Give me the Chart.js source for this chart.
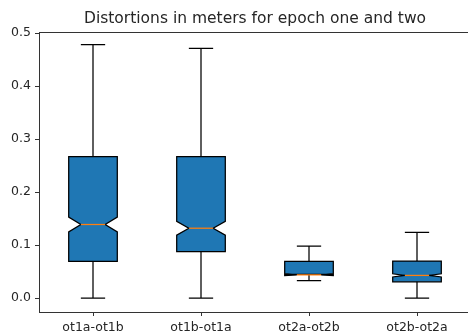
<!DOCTYPE html>
<html>
<head>
<meta charset="utf-8">
<script src="https://cdn.jsdelivr.net/npm/chart.js@4/dist/chart.umd.min.js"></script>
<style>
  html, body { margin: 0; padding: 0; background: #fff; overflow: hidden; }
  #wrap { width: 480px; height: 336px; }
</style>
</head>
<body>
<div id="wrap"><canvas id="c" width="480" height="336"></canvas></div>
<script>
// Distortion statistics (metres) per epoch pair
const categories = ['ot1a-ot1b', 'ot1b-ot1a', 'ot2a-ot2b', 'ot2b-ot2a'];
const whiskerLow  = [0.000, 0.000, 0.033, 0.000];
const quartile1   = [0.0695, 0.088, 0.045, 0.031];
const notchLow    = [0.125, 0.119, 0.0425, 0.040];
const medians     = [0.139, 0.132, 0.044, 0.043];
const notchHigh   = [0.153, 0.145, 0.0465, 0.046];
const quartile3   = [0.267, 0.267, 0.0695, 0.070];
const whiskerHigh = [0.478, 0.471, 0.098, 0.124];
const yTicks = [0.0, 0.1, 0.2, 0.3, 0.4, 0.5];
const chartTitle = 'Distortions in meters for epoch one and two';

const FONT = 'DejaVu Sans';
const TEXT = '#262626';
const SPINE = '#333333';

// Notched box plot painter working in data space via the chart scales
const notchedBoxes = {
  id: 'notchedBoxes',
  afterDatasetsDraw(chart) {
    const { ctx, scales: { x, y } } = chart;
    const step = x.getPixelForValue(1) - x.getPixelForValue(0);
    const w = step * 0.45;
    ctx.save();
    ctx.lineWidth = 1.25;
    ctx.lineJoin = 'miter';
    categories.forEach((_, i) => {
      const cx = x.getPixelForValue(i);
      const left = cx - w / 2, right = cx + w / 2;
      const capL = cx - w / 4, capR = cx + w / 4;
      const py = v => y.getPixelForValue(v);
      // box body with notch around the median
      ctx.beginPath();
      ctx.moveTo(left, py(quartile1[i]));
      ctx.lineTo(left, py(notchLow[i]));
      ctx.lineTo(capL, py(medians[i]));
      ctx.lineTo(left, py(notchHigh[i]));
      ctx.lineTo(left, py(quartile3[i]));
      ctx.lineTo(right, py(quartile3[i]));
      ctx.lineTo(right, py(notchHigh[i]));
      ctx.lineTo(capR, py(medians[i]));
      ctx.lineTo(right, py(notchLow[i]));
      ctx.lineTo(right, py(quartile1[i]));
      ctx.closePath();
      ctx.fillStyle = '#1f77b4';
      ctx.fill();
      ctx.strokeStyle = '#000';
      ctx.stroke();
      // whiskers and caps
      ctx.beginPath();
      ctx.moveTo(cx, py(quartile1[i]));
      ctx.lineTo(cx, py(whiskerLow[i]));
      ctx.moveTo(cx, py(quartile3[i]));
      ctx.lineTo(cx, py(whiskerHigh[i]));
      ctx.moveTo(capL, py(whiskerLow[i]));
      ctx.lineTo(capR, py(whiskerLow[i]));
      ctx.moveTo(capL, py(whiskerHigh[i]));
      ctx.lineTo(capR, py(whiskerHigh[i]));
      ctx.stroke();
      // median
      ctx.beginPath();
      ctx.moveTo(capL, py(medians[i]));
      ctx.lineTo(capR, py(medians[i]));
      ctx.strokeStyle = '#ff7f0e';
      ctx.stroke();
    });
    ctx.restore();
  },
  afterDraw(chart) {
    const { ctx, chartArea: a } = chart;
    ctx.save();
    // top spine
    ctx.beginPath();
    ctx.moveTo(a.left, a.top + 0.5);
    ctx.lineTo(a.right, a.top + 0.5);
    ctx.strokeStyle = SPINE;
    ctx.lineWidth = 1;
    ctx.stroke();
    // title centred over the axes
    ctx.font = '15.5px "' + FONT + '"';
    ctx.fillStyle = TEXT;
    ctx.textAlign = 'center';
    ctx.textBaseline = 'alphabetic';
    ctx.fillText(chartTitle, (a.left + a.right) / 2, a.top - 9);
    ctx.restore();
  }
};

new Chart(document.getElementById('c'), {
  type: 'bar',
  data: {
    labels: categories,
    datasets: [{
      data: categories.map((_, i) => [quartile1[i], quartile3[i]]),
      backgroundColor: 'rgba(0,0,0,0)',
      borderWidth: 0
    }]
  },
  options: {
    responsive: false,
    animation: false,
    devicePixelRatio: 1,
    layout: { padding: { top: 32, right: 9, left: 0, bottom: 0 } },
    plugins: { legend: { display: false }, tooltip: { enabled: false }, title: { display: false } },
    scales: {
      x: {
        type: 'category',
        offset: true,
        grid: { display: true, offset: false, drawOnChartArea: false, drawTicks: true, tickLength: 4, tickColor: SPINE, tickWidth: 1 },
        border: { display: true, color: SPINE, width: 1 },
        ticks: { font: { family: FONT, size: 12.5 }, color: TEXT, padding: 4, maxRotation: 0, autoSkip: false },
        afterFit: s => { s.height = 24; }
      },
      y: {
        min: -0.026,
        max: 0.502,
        afterBuildTicks: s => { s.ticks = yTicks.map(v => ({ value: v })); },
        grid: { display: true, drawOnChartArea: false, drawTicks: true, tickLength: 4, tickColor: SPINE, tickWidth: 1 },
        border: { display: true, color: SPINE, width: 1 },
        ticks: { font: { family: FONT, size: 12.5 }, color: TEXT, padding: 4, callback: v => Number(v).toFixed(1) },
        afterFit: s => { s.width = 39; }
      }
    }
  },
  plugins: [notchedBoxes]
});
</script>
</body>
</html>
